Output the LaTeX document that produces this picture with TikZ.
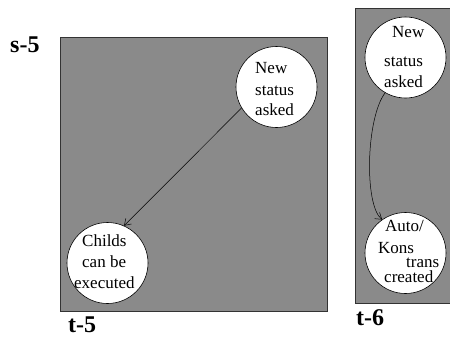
\documentclass[tikz,border=0pt]{standalone}
\usepackage{fontspec}
\setmainfont{Liberation Serif}
\usetikzlibrary{arrows.meta}
\definecolor{boxgray}{RGB}{138,138,138}
\tikzset{
  panel/.style={draw=black!80, fill=boxgray, line width=0.6pt},
  state/.style={circle, draw=black, fill=white, line width=0.6pt, minimum size=81pt, inner sep=0pt},
  txt/.style={anchor=base west, inner sep=0pt, font=\fontsize{17}{20}\selectfont},
  lbl/.style={anchor=base west, inner sep=0pt, font=\fontsize{24}{28}\selectfont\bfseries},
  conn/.style={line width=0.5pt, -{Straight Barb[length=6pt,width=8pt]}}
}
\begin{document}
\begin{tikzpicture}[x=1pt,y=-1pt]
\useasboundingbox (0,0) rectangle (450,340);
% panels
\path[panel] (60,37) rectangle (327,311);
\path[panel] (355,8) rectangle (452,303);
% circles
\node[state] (n1) at (276.5,87) {};
\node[state] (c1) at (107.5,263) {};
\node[state] (n2) at (405.5,57.5) {};
\node[state] (a2) at (405.5,253) {};
% texts
\node[txt] (t1a) at (255,73) {New};
\node[txt] (t1b) at (255,95) {status};
\node[txt] (t1c) at (255,115) {asked};
\node[txt] (c1a) at (82,246) {Childs};
\node[txt] (c1b) at (82,267) {can be};
\node[txt] (c1c) at (74,288) {executed};
\node[txt] (t2a) at (392,37) {New};
\node[txt] (t2b) at (384,66) {status};
\node[txt] (t2c) at (384,87) {asked};
\node[txt] (a2a) at (385,231) {Auto/};
\node[txt] (a2b) at (378,253) {Kons};
\node[txt] (a2c) at (406,267) {trans};
\node[txt] (a2d) at (384,282) {created};
% labels
\node[lbl] (s5) at (10,52) {s-5};
\node[lbl] (t5) at (68,332) {t-5};
\node[lbl] (t6) at (356,325) {t-6};
% connectors
\draw[conn] (n1.211) -- (c1.66);
\draw[conn] (n2.240) .. controls (366,118) and (364,205) .. (a2.125);
\end{tikzpicture}
\end{document}
